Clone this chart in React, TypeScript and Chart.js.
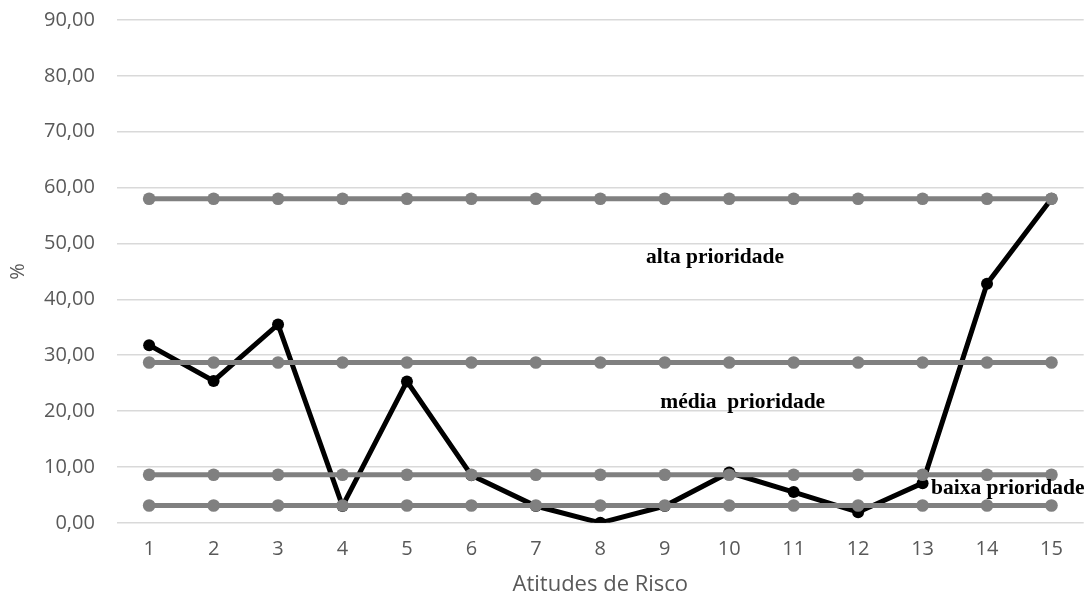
import React, { useEffect, useRef } from "react";
import { Chart, registerables } from "chart.js";

Chart.register(...registerables);

const categories = ["1", "2", "3", "4", "5", "6", "7", "8", "9", "10", "11", "12", "13", "14", "15"];
const riskValues = [31.8, 25.4, 35.5, 3.0, 25.3, 8.5, 3.0, 0.0, 3.0, 9.0, 5.5, 1.9, 7.1, 42.8, 58.0];
const altaLine = [58, 58, 58, 58, 58, 58, 58, 58, 58, 58, 58, 58, 58, 58, 58];
const mediaLine = [28.7, 28.7, 28.7, 28.7, 28.7, 28.7, 28.7, 28.7, 28.7, 28.7, 28.7, 28.7, 28.7, 28.7, 28.7];
const baixaLine = [8.6, 8.6, 8.6, 8.6, 8.6, 8.6, 8.6, 8.6, 8.6, 8.6, 8.6, 8.6, 8.6, 8.6, 8.6];
const minLine = [3.1, 3.1, 3.1, 3.1, 3.1, 3.1, 3.1, 3.1, 3.1, 3.1, 3.1, 3.1, 3.1, 3.1, 3.1];

const annotationTexts = ["alta prioridade", "média  prioridade", "baixa prioridade"];
const annotationX = [8.78, 9.21, 12.13];
const annotationY = [47.5, 21.6, 6.1];
const annotationAlign = ["center", "center", "left"];

const textPlugin = {
  id: "priorityTexts",
  afterDatasetsDraw(chart: any) {
    const { ctx, scales } = chart;
    ctx.save();
    ctx.font = "bold 21.5px 'Liberation Serif', 'Times New Roman', serif";
    ctx.fillStyle = "#000";
    ctx.textBaseline = "middle";
    annotationTexts.forEach((t, i) => {
      ctx.textAlign = annotationAlign[i];
      const x = scales.x.getPixelForValue(annotationX[i]);
      const y = scales.y.getPixelForValue(annotationY[i]);
      ctx.fillText(t, x, y);
    });
    ctx.restore();
  },
};

const greyStyle = (data: number[], order: number) => ({
  data,
  borderColor: "#808080",
  backgroundColor: "#808080",
  borderWidth: 5,
  pointRadius: 6.3,
  pointBackgroundColor: "#808080",
  pointBorderWidth: 0,
  tension: 0,
  order,
});

export default function App() {
  const ref = useRef<HTMLCanvasElement>(null);
  useEffect(() => {
    document.body.style.margin = "0";
    const chart = new Chart(ref.current!, {
      type: "line",
      data: {
        labels: categories,
        datasets: [
          greyStyle(altaLine, 1),
          greyStyle(mediaLine, 2),
          greyStyle(baixaLine, 3),
          greyStyle(minLine, 4),
          {
            data: riskValues,
            borderColor: "#000",
            backgroundColor: "#000",
            borderWidth: 5,
            pointRadius: 6,
            pointBackgroundColor: "#000",
            pointBorderWidth: 0,
            tension: 0,
            order: 10,
          },
        ],
      },
      options: {
        animation: false,
        responsive: false,
        maintainAspectRatio: false,
        layout: { padding: { top: 0, right: 2, left: 0, bottom: 0 } },
        plugins: { legend: { display: false }, tooltip: { enabled: false } },
        scales: {
          x: {
            offset: true,
            grid: { display: false, drawTicks: true, tickLength: 14, tickColor: "rgba(0,0,0,0)" },
            border: { display: false },
            ticks: { color: "#595959", font: { family: "'Open Sans'", size: 20, lineHeight: 1.0 }, padding: 2 },
            title: {
              display: true,
              text: "Atitudes de Risco",
              color: "#595959",
              font: { family: "'Open Sans'", size: 22, lineHeight: 0.85 },
              padding: { top: 14.5, bottom: 0 },
            },
          },
          y: {
            min: 0,
            max: 90,
            ticks: {
              stepSize: 10,
              color: "#595959",
              font: { family: "'Open Sans'", size: 20 },
              padding: 8,
              callback: (v: any) => Number(v).toFixed(2).replace(".", ","),
            },
            grid: { color: "#d9d9d9", lineWidth: 1.5, drawTicks: true, tickLength: 14, tickColor: "rgba(0,0,0,0)" },
            border: { display: false },
            title: {
              display: true,
              text: "%",
              color: "#595959",
              font: { family: "'Open Sans'", size: 20 },
              padding: { top: 6, bottom: 6 },
            },
          },
        },
      },
      plugins: [textPlugin],
    });
    return () => chart.destroy();
  }, []);
  return (
    <div style={{ width: 1090, height: 594 }}>
      <canvas ref={ref} width={1090} height={594} style={{ display: "block" }} />
    </div>
  );
}
